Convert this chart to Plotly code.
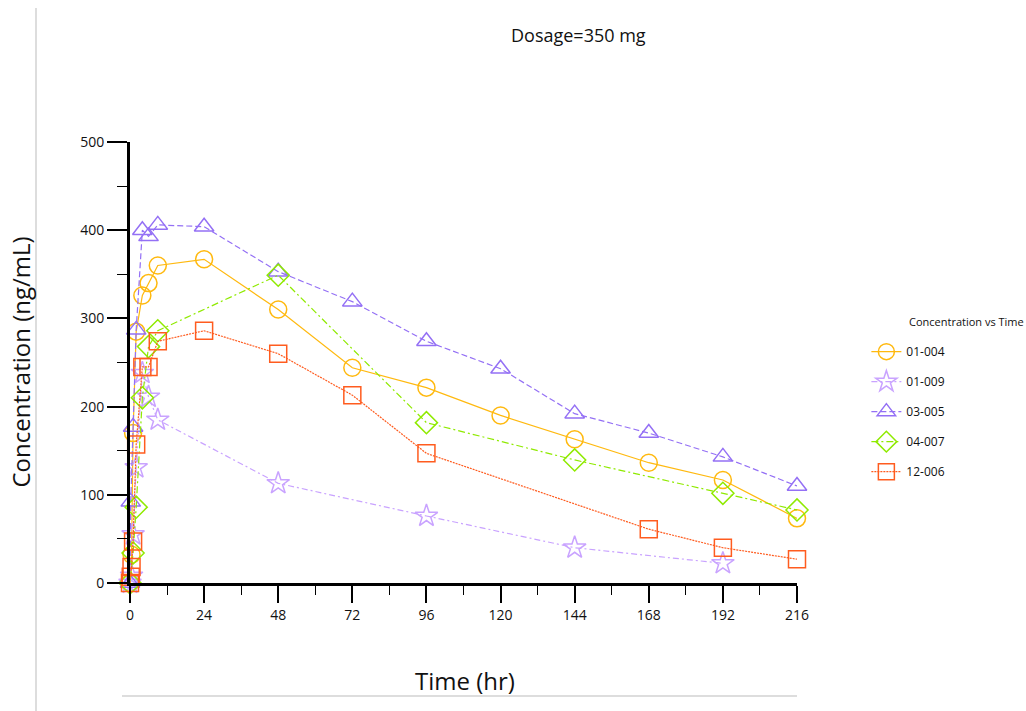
import plotly.graph_objects as go

# Sampling times (hr) and concentrations (ng/mL) per subject
t_01_004 = [0, 0.5, 1, 2, 4, 6, 9, 24, 48, 72, 96, 120, 144, 168, 192, 216]
c_01_004 = [0, 32, 170, 285, 326, 340, 360, 367, 310, 244, 221.5, 190, 163, 136.4, 116.8, 73.3]

t_01_009 = [0, 0.5, 1, 2, 4, 6, 9, 48, 96, 144, 192]
c_01_009 = [0, 8, 55, 131, 238, 211, 185, 113, 76, 40, 22.3]

t_03_005 = [0, 0.25, 1, 2, 4, 6, 9, 24, 48, 72, 96, 120, 144, 168, 192, 216]
c_03_005 = [0, 92, 177, 287, 400, 393, 406, 404, 353, 319, 274, 243, 192, 170, 143, 110]

t_04_007 = [0, 1, 2, 4, 6, 9, 48, 96, 144, 192, 216]
c_04_007 = [0, 34, 86, 210, 268, 286, 349, 181.8, 139.5, 101.7, 82.8]

t_12_006 = [0, 0.25, 0.5, 1, 2, 4, 6, 9, 24, 48, 72, 96, 168, 192, 216]
c_12_006 = [0, 7, 18, 47, 157, 245, 245, 274, 286, 260, 213, 147, 61, 40, 27]

subjects = ["01-004", "01-009", "03-005", "04-007", "12-006"]
times = [t_01_004, t_01_009, t_03_005, t_04_007, t_12_006]
concs = [c_01_004, c_01_009, c_03_005, c_04_007, c_12_006]

colors = ["#FFB90F", "#C9A3FF", "#9470F5", "#8FEA00", "#FF5C1F"]
dashes = ["solid", "6px,3px,2px,3px", "6px,3px", "7px,3px,2px,3px", "2px,1px"]
symbols = ["circle-open", "star-open", "triangle-up-open", "diamond-open", "square-open"]

x_ticks = [0, 24, 48, 72, 96, 120, 144, 168, 192, 216]
y_ticks = [0, 100, 200, 300, 400, 500]

FONT = "Open Sans"

fig = go.Figure()
for name, t, c, col, dsh, sym in zip(subjects, times, concs, colors, dashes, symbols):
    fig.add_trace(go.Scatter(
        x=t, y=c, name=name, legendgroup=name,
        mode="lines+markers",
        line=dict(color=col, width=1.2, dash=dsh),
        marker=dict(symbol=sym, size=17, color=col, line=dict(color=col, width=1.5)),
        cliponaxis=False,
    ))

fig.update_layout(
    width=1026, height=711,
    paper_bgcolor="white", plot_bgcolor="white",
    margin=dict(l=130, r=229, t=142, b=128),
    font=dict(family=FONT, color="#111111"),
    showlegend=True,
    legend=dict(
        x=1.104, xanchor="left", y=0.5575, yanchor="top",
        font=dict(size=12), tracegroupgap=11,
        itemwidth=30, bgcolor="rgba(0,0,0,0)",
    ),
    xaxis=dict(
        range=[0, 216], tickvals=x_ticks, ticktext=[str(v) for v in x_ticks],
        showgrid=False, zeroline=False,
        showline=True, linecolor="black", linewidth=3,
        ticks="outside", ticklen=17, tickwidth=1.5, tickcolor="black",
        tickfont=dict(size=14), ticklabelstandoff=0,
        minor=dict(dtick=12, ticks="outside", ticklen=9, tickwidth=1.2, tickcolor="black"),
    ),
    yaxis=dict(
        range=[0, 500], tickvals=y_ticks, ticktext=[str(v) for v in y_ticks],
        showgrid=False, zeroline=False,
        showline=True, linecolor="black", linewidth=3,
        ticks="outside", ticklen=20, tickwidth=1.5, tickcolor="black",
        tickfont=dict(size=14),
        minor=dict(dtick=50, ticks="outside", ticklen=10, tickwidth=1.2, tickcolor="black"),
    ),
    annotations=[
        dict(text="Dosage=350 mg", xref="paper", yref="paper",
             x=(578 - 130) / 667, y=1 + (142 - 35) / 441,
             xanchor="center", yanchor="middle", showarrow=False,
             font=dict(size=18)),
        dict(text="Concentration vs Time", xref="paper", yref="paper",
             x=(907 - 130) / 667, y=(583 - 321) / 441,
             xanchor="left", yanchor="middle", showarrow=False,
             font=dict(size=11)),
        dict(text="Time (hr)", xref="paper", yref="paper",
             x=(465 - 130) / 667, y=-(680 - 583) / 441,
             xanchor="center", yanchor="middle", showarrow=False,
             font=dict(size=24)),
        dict(text="Concentration (ng/mL)", xref="paper", yref="paper",
             x=-(130 - 20) / 667, y=0.5, textangle=-90,
             xanchor="center", yanchor="middle", showarrow=False,
             font=dict(size=24)),
    ],
    shapes=[
        # frame edges
        dict(type="line", xref="paper", yref="paper",
             x0=-(130 - 36) / 667, x1=-(130 - 36) / 667,
             y0=-(711 - 583) / 441, y1=1 + (142 - 8) / 441,
             line=dict(color="#BBBBBB", width=1)),
        dict(type="line", xref="paper", yref="paper",
             x0=-(130 - 122) / 667, x1=1.0,
             y0=-(696 - 583) / 441, y1=-(696 - 583) / 441,
             line=dict(color="#BBBBBB", width=1)),
    ],
)

fig.write_html("out.html")
